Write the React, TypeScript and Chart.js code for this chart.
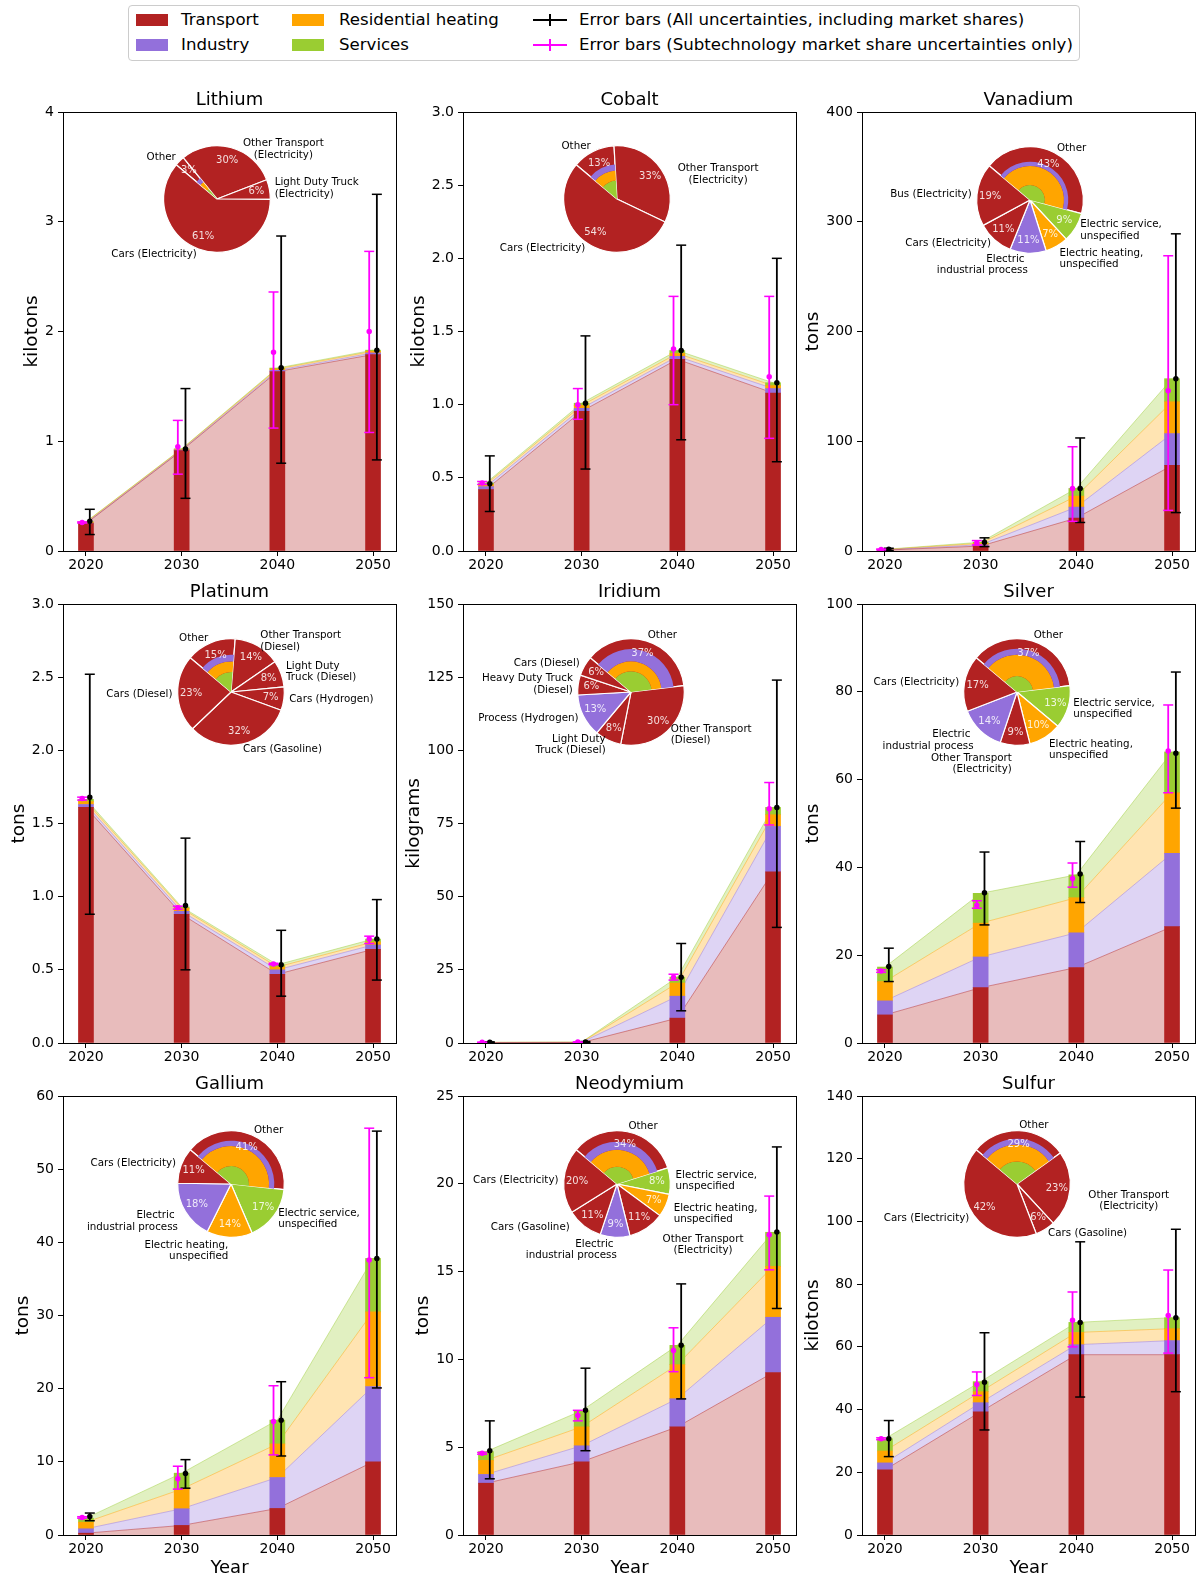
import React, { useEffect, useRef } from "react";
import { Chart, registerables } from "chart.js";

Chart.register(...registerables);
Chart.defaults.font.family = "'DejaVu Sans', sans-serif";

// ---------------- data ----------------
const YEARS = ["2020", "2030", "2040", "2050"];
const X_POS = [0, 1, 2, 3];
const SECTORS = ["Transport", "Industry", "Residential heating", "Services"];

// Lithium (kilotons)
const lithiumTransport = [0.25, 0.915, 1.635, 1.79];
const lithiumIndustry = [0.004, 0.006, 0.012, 0.015];
const lithiumResidential = [0.008, 0.006, 0.012, 0.015];
const lithiumServices = [0.004, 0.004, 0.008, 0.01];
const lithiumErrAll = [[0.27, 0.15, 0.38], [0.93, 0.48, 1.48], [1.67, 0.8, 2.87], [1.83, 0.83, 3.25]];
const lithiumErrShare = [[0.26, 0.255, 0.265], [0.95, 0.7, 1.19], [1.81, 1.12, 2.36], [2.0, 1.08, 2.73]];
const lithiumPieLabels = ["Cars (Electricity)", "Light Duty Truck\n(Electricity)", "Other Transport\n(Electricity)", "Other"];
const lithiumPieShares = [61, 6, 30, 3];
const lithiumPieSectors = ["T", "T", "T", "O"];
const lithiumOtherMix = [0.75, 0.084, 0.106, 0.06];

// Cobalt (kilotons)
const cobaltTransport = [0.42, 0.955, 1.31, 1.08];
const cobaltIndustry = [0.02, 0.02, 0.02, 0.03];
const cobaltResidential = [0.015, 0.02, 0.02, 0.02];
const cobaltServices = [0.01, 0.015, 0.02, 0.02];
const cobaltErrAll = [[0.46, 0.27, 0.65], [1.01, 0.56, 1.47], [1.37, 0.76, 2.09], [1.15, 0.61, 2.0]];
const cobaltErrShare = [[0.465, 0.455, 0.475], [1.0, 0.9, 1.11], [1.38, 1.0, 1.74], [1.19, 0.77, 1.74]];
const cobaltPieLabels = ["Cars (Electricity)", "Other Transport\n(Electricity)", "Other"];
const cobaltPieShares = [54, 33, 13];
const cobaltPieSectors = ["T", "T", "O"];
const cobaltOtherMix = [0.58, 0.135, 0.165, 0.12];

// Vanadium (tons)
const vanadiumTransport = [0.8, 4.5, 30, 78];
const vanadiumIndustry = [0.3, 1.2, 10, 29];
const vanadiumResidential = [0.2, 1.3, 10, 29];
const vanadiumServices = [0.2, 1.0, 7, 21];
const vanadiumErrAll = [[1.5, 0.5, 2.5], [8, 4, 12], [57, 26, 103], [157, 35, 289]];
const vanadiumErrShare = [[1.4, 1.0, 1.8], [7.5, 5.5, 9.5], [57, 27, 95], [146, 37, 269]];
const vanadiumPieLabels = ["Bus (Electricity)", "Cars (Electricity)", "Electric \nindustrial process", "Electric heating,\nunspecified", "Electric service,\nunspecified", "Other"];
const vanadiumPieShares = [19, 11, 11, 7, 9, 43];
const vanadiumPieSectors = ["T", "T", "I", "R", "S", "O"];
const vanadiumOtherMix = [0.484, 0.109, 0.328, 0.079];

// Platinum (tons)
const platinumTransport = [1.61, 0.88, 0.47, 0.64];
const platinumIndustry = [0.02, 0.02, 0.03, 0.03];
const platinumResidential = [0.02, 0.02, 0.02, 0.02];
const platinumServices = [0.015, 0.01, 0.015, 0.02];
const platinumErrAll = [[1.68, 0.88, 2.52], [0.94, 0.5, 1.4], [0.535, 0.32, 0.77], [0.71, 0.43, 0.98]];
const platinumErrShare = [[1.67, 1.66, 1.68], [0.925, 0.915, 0.935], [0.54, 0.535, 0.545], [0.71, 0.68, 0.73]];
const platinumPieLabels = ["Cars (Diesel)", "Cars (Gasoline)", "Cars (Hydrogen)", "Light Duty\nTruck (Diesel)", "Other Transport\n(Diesel)", "Other"];
const platinumPieShares = [23, 32, 7, 8, 14, 15];
const platinumPieSectors = ["T", "T", "T", "T", "T", "O"];
const platinumOtherMix = [0.51, 0.16, 0.19, 0.14];

// Iridium (kilograms)
const iridiumTransport = [0.1, 0.15, 8.5, 58.5];
const iridiumIndustry = [0.05, 0.08, 7.5, 15.5];
const iridiumResidential = [0.05, 0.05, 4.5, 4];
const iridiumServices = [0.03, 0.04, 2, 2.5];
const iridiumErrAll = [[0.23, 0.1, 0.4], [0.32, 0.15, 0.5], [22.5, 11, 34], [80.5, 39.5, 124]];
const iridiumErrShare = [[0.22, 0.2, 0.25], [0.3, 0.28, 0.33], [22.5, 21.5, 23.5], [80, 74.5, 89]];
const iridiumPieLabels = ["Cars (Diesel)", "Heavy Duty Truck\n(Diesel)", "Process (Hydrogen)", "Light Duty\nTruck (Diesel)", "Other Transport\n(Diesel)", "Other"];
const iridiumPieShares = [6, 6, 13, 8, 30, 37];
const iridiumPieSectors = ["T", "T", "I", "T", "T", "O"];
const iridiumOtherMix = [0.354, 0.316, 0.18, 0.15];

// Silver (tons)
const silverTransport = [6.4, 12.6, 17.2, 26.5];
const silverIndustry = [3.2, 7.0, 7.9, 16.7];
const silverResidential = [4.4, 7.7, 8.0, 13.8];
const silverServices = [3.3, 6.8, 5.2, 9.3];
const silverErrAll = [[17.4, 14.0, 21.6], [34.2, 26.9, 43.5], [38.5, 32.0, 45.9], [66.0, 53.5, 84.5]];
const silverErrShare = [[16.4, 16.1, 16.7], [31.4, 30.7, 32.4], [37.5, 35.5, 41.0], [66.5, 57.0, 77.0]];
const silverPieLabels = ["Cars (Electricity)", "Electric \nindustrial process", "Other Transport\n(Electricity)", "Electric heating,\nunspecified", "Electric service,\nunspecified", "Other"];
const silverPieShares = [17, 14, 9, 10, 13, 37];
const silverPieSectors = ["T", "I", "T", "R", "S", "O"];
const silverOtherMix = [0.34, 0.17, 0.4, 0.09];

// Gallium (tons)
const galliumTransport = [0.25, 1.31, 3.63, 10.0];
const galliumIndustry = [0.6, 2.28, 4.23, 10.3];
const galliumResidential = [0.9, 2.68, 4.59, 10.2];
const galliumServices = [0.55, 2.18, 3.25, 7.3];
const galliumErrAll = [[2.54, 1.95, 3.0], [8.4, 6.4, 10.3], [15.7, 10.8, 20.95], [37.8, 20.1, 55.2]];
const galliumErrShare = [[2.4, 2.3, 2.5], [7.7, 6.27, 9.4], [15.5, 10.95, 20.4], [37.6, 21.5, 55.6]];
const galliumPieLabels = ["Cars (Electricity)", "Electric \nindustrial process", "Electric heating,\nunspecified", "Electric service,\nunspecified", "Other"];
const galliumPieShares = [11, 18, 14, 17, 41];
const galliumPieSectors = ["T", "I", "R", "S", "O"];
const galliumOtherMix = [0.34, 0.15, 0.396, 0.114];

// Neodymium (tons)
const neodymiumTransport = [2.95, 4.17, 6.16, 9.25];
const neodymiumIndustry = [0.5, 0.91, 1.6, 3.15];
const neodymiumResidential = [0.8, 1.08, 1.94, 2.9];
const neodymiumServices = [0.5, 0.92, 1.1, 1.94];
const neodymiumErrAll = [[4.8, 3.2, 6.5], [7.1, 4.8, 9.5], [10.8, 7.75, 14.3], [17.25, 12.9, 22.1]];
const neodymiumErrShare = [[4.65, 4.6, 4.7], [6.8, 6.5, 7.1], [10.5, 9.3, 11.8], [17.1, 15.1, 19.3]];
const neodymiumPieLabels = ["Cars (Electricity)", "Cars (Gasoline)", "Electric \nindustrial process", "Other Transport\n(Electricity)", "Electric heating,\nunspecified", "Electric service,\nunspecified", "Other"];
const neodymiumPieShares = [20, 11, 9, 11, 7, 8, 34];
const neodymiumPieSectors = ["T", "T", "I", "T", "R", "S", "O"];
const neodymiumOtherMix = [0.37, 0.22, 0.305, 0.105];

// Sulfur (kilotons)
const sulfurTransport = [20.8, 39.3, 57.5, 57.5];
const sulfurIndustry = [2.2, 2.9, 3.2, 4.5];
const sulfurResidential = [3.8, 3.5, 3.9, 3.8];
const sulfurServices = [3.9, 3.2, 3.2, 3.5];
const sulfurErrAll = [[30.7, 25, 36.5], [48.7, 33.5, 64.5], [67.8, 44, 93.5], [69.3, 45.7, 97.5]];
const sulfurErrShare = [[30.7, 30.4, 31.0], [48, 44.5, 52], [68.5, 60, 77.5], [70, 58, 84.5]];
const sulfurPieLabels = ["Cars (Electricity)", "Cars (Gasoline)", "Other Transport\n(Electricity)", "Other"];
const sulfurPieShares = [42, 6, 23, 29];
const sulfurPieSectors = ["T", "T", "T", "O"];
const sulfurOtherMix = [0.28, 0.18, 0.36, 0.18];

const METALS: any[] = [
  { name: "Lithium", unit: "kilotons", yMax: 4, yStep: 1, dec: 0, sectors: [lithiumTransport, lithiumIndustry, lithiumResidential, lithiumServices], errAll: lithiumErrAll, errShare: lithiumErrShare, pieLabels: lithiumPieLabels, pieShares: lithiumPieShares, pieSectors: lithiumPieSectors, otherMix: lithiumOtherMix },
  { name: "Cobalt", unit: "kilotons", yMax: 3, yStep: 0.5, dec: 1, sectors: [cobaltTransport, cobaltIndustry, cobaltResidential, cobaltServices], errAll: cobaltErrAll, errShare: cobaltErrShare, pieLabels: cobaltPieLabels, pieShares: cobaltPieShares, pieSectors: cobaltPieSectors, otherMix: cobaltOtherMix },
  { name: "Vanadium", unit: "tons", yMax: 400, yStep: 100, dec: 0, sectors: [vanadiumTransport, vanadiumIndustry, vanadiumResidential, vanadiumServices], errAll: vanadiumErrAll, errShare: vanadiumErrShare, pieLabels: vanadiumPieLabels, pieShares: vanadiumPieShares, pieSectors: vanadiumPieSectors, otherMix: vanadiumOtherMix },
  { name: "Platinum", unit: "tons", yMax: 3, yStep: 0.5, dec: 1, sectors: [platinumTransport, platinumIndustry, platinumResidential, platinumServices], errAll: platinumErrAll, errShare: platinumErrShare, pieLabels: platinumPieLabels, pieShares: platinumPieShares, pieSectors: platinumPieSectors, otherMix: platinumOtherMix },
  { name: "Iridium", unit: "kilograms", yMax: 150, yStep: 25, dec: 0, sectors: [iridiumTransport, iridiumIndustry, iridiumResidential, iridiumServices], errAll: iridiumErrAll, errShare: iridiumErrShare, pieLabels: iridiumPieLabels, pieShares: iridiumPieShares, pieSectors: iridiumPieSectors, otherMix: iridiumOtherMix },
  { name: "Silver", unit: "tons", yMax: 100, yStep: 20, dec: 0, sectors: [silverTransport, silverIndustry, silverResidential, silverServices], errAll: silverErrAll, errShare: silverErrShare, pieLabels: silverPieLabels, pieShares: silverPieShares, pieSectors: silverPieSectors, otherMix: silverOtherMix },
  { name: "Gallium", unit: "tons", yMax: 60, yStep: 10, dec: 0, sectors: [galliumTransport, galliumIndustry, galliumResidential, galliumServices], errAll: galliumErrAll, errShare: galliumErrShare, pieLabels: galliumPieLabels, pieShares: galliumPieShares, pieSectors: galliumPieSectors, otherMix: galliumOtherMix },
  { name: "Neodymium", unit: "tons", yMax: 25, yStep: 5, dec: 0, sectors: [neodymiumTransport, neodymiumIndustry, neodymiumResidential, neodymiumServices], errAll: neodymiumErrAll, errShare: neodymiumErrShare, pieLabels: neodymiumPieLabels, pieShares: neodymiumPieShares, pieSectors: neodymiumPieSectors, otherMix: neodymiumOtherMix },
  { name: "Sulfur", unit: "kilotons", yMax: 140, yStep: 20, dec: 0, sectors: [sulfurTransport, sulfurIndustry, sulfurResidential, sulfurServices], errAll: sulfurErrAll, errShare: sulfurErrShare, pieLabels: sulfurPieLabels, pieShares: sulfurPieShares, pieSectors: sulfurPieSectors, otherMix: sulfurOtherMix },
];

// ---------------- layout & style ----------------
const COL_LEFT = [63, 463, 862];
const ROW_TOP = [112, 604, 1096];
const AX_W = 333;
const AX_H = 439;
const PAD_L = 62, PAD_T = 40, PAD_R = 8, PAD_B = 45;
const PIE_CENTERS = [[217, 199], [617, 199], [1030, 200], [231, 692], [631, 692], [1017, 692], [231, 1184], [617, 1184], [1017, 1184]];
const LABEL_NUDGES: any[] = [
  { 2: [11, 7, "center"] },
  { 1: [12, 8, "center"] },
  { 2: [0, 6], 3: [0, 8] },
  {},
  {},
  { 1: [-3, 6], 2: [-3, 13], 3: [1, 8] },
  { 1: [-3, 7], 2: [-1, 8] },
  { 1: [-11, -3], 2: [2, 7], 3: [13, 12, "center"], 4: [3, 6] },
  { 2: [13, 11, "center"] },
];
const PIE_START = 140;
const PIE_R = 53.3;
const PIE_W = 340, PIE_H = 200;
const FONT = "'DejaVu Sans', sans-serif";

const BAR_COLORS = ["#b22222", "#9370db", "#ffa500", "#9acd32"];
const AREA_FILL = ["rgba(178,34,34,0.3)", "rgba(147,112,219,0.3)", "rgba(255,165,0,0.3)", "rgba(154,205,50,0.3)"];
const AREA_EDGE = ["rgba(178,34,34,0.45)", "rgba(147,112,219,0.45)", "rgba(255,165,0,0.45)", "rgba(154,205,50,0.45)"];
const SECTOR_COLOR: any = { T: "#b22222", I: "#9370db", R: "#ffa500", S: "#9acd32", O: "#b22222" };
const MAGENTA = "#ff00ff";

function errPoints(err: number[][], dx: number) {
  const pts: any[] = [];
  err.forEach(([mid, lo, hi], j) => {
    const x = X_POS[j] + dx;
    pts.push({ x, y: lo }, { x, y: mid }, { x, y: hi }, { x, y: null });
  });
  return pts;
}

function decorPlugin(m: any, showX: boolean) {
  return {
    id: "decor",
    afterDraw(chart: any) {
      const { ctx, chartArea: a } = chart;
      const al = (p: number) => Math.round(p - 0.5) + 0.5;
      ctx.save();
      ctx.strokeStyle = "#000";
      ctx.lineWidth = 1;
      ctx.strokeRect(al(a.left), al(a.top), al(a.right) - al(a.left), al(a.bottom) - al(a.top));
      ctx.fillStyle = "#000";
      ctx.font = `18px ${FONT}`;
      ctx.textAlign = "center";
      ctx.textBaseline = "alphabetic";
      ctx.fillText(m.name, (a.left + a.right) / 2, a.top - 7.5);
      ctx.font = `14px ${FONT}`;
      const maxW = Math.max(...chart.scales.y.ticks.map((t: any) => ctx.measureText(String(t.label)).width));
      ctx.save();
      ctx.translate(a.left - maxW - 22, (a.top + a.bottom) / 2);
      ctx.rotate(-Math.PI / 2);
      ctx.font = `18.5px ${FONT}`;
      ctx.textBaseline = "middle";
      ctx.fillText(m.unit, 0, 0);
      ctx.restore();
      if (showX) {
        ctx.font = `18px ${FONT}`;
        ctx.textBaseline = "middle";
        ctx.fillText("Year", (a.left + a.right) / 2, a.bottom + 33);
      }
      ctx.restore();
    },
  };
}

function mainConfig(m: any, idx: number): any {
  const showX = Math.floor(idx / 3) === 2;
  const areaDs = m.sectors.map((vals: number[], k: number) => ({
    type: "line",
    label: SECTORS[k] + " area",
    data: X_POS.map((x, j) => ({ x, y: vals[j] })),
    stack: "area",
    order: 3,
    fill: k === 0 ? "origin" : "-1",
    backgroundColor: AREA_FILL[k],
    borderColor: AREA_EDGE[k],
    borderWidth: 1,
    pointRadius: 0,
    tension: 0,
  }));
  const barDs = m.sectors.map((vals: number[], k: number) => ({
    type: "bar",
    label: SECTORS[k],
    data: X_POS.map((x, j) => ({ x, y: vals[j] })),
    stack: "bars",
    order: 2,
    backgroundColor: BAR_COLORS[k],
    borderWidth: 0,
    barThickness: 15,
  }));
  const errSpecs: any[] = [
    [m.errShare, MAGENTA, -0.04, "Error bars (Subtechnology market share uncertainties only)"],
    [m.errAll, "#000", 0.04, "Error bars (All uncertainties, including market shares)"],
  ];
  const errDs = errSpecs.map(([err, color, dx, label], k) => ({
    type: "line",
    label,
    data: errPoints(err, dx),
    stack: "err" + k,
    order: 0,
    fill: false,
    spanGaps: false,
    borderColor: color,
    borderWidth: 1.8,
    tension: 0,
    pointStyle: err.flatMap(() => ["line", "circle", "line", "line"]),
    pointRadius: err.flatMap(() => [5, 2, 5, 0]),
    pointBackgroundColor: color,
    pointBorderColor: color,
    pointBorderWidth: 1.5,
  }));
  return {
    type: "bar",
    data: { datasets: [...areaDs, ...barDs, ...errDs] },
    options: {
      responsive: false,
      maintainAspectRatio: false,
      animation: false,
      devicePixelRatio: 1,
      events: [],
      layout: { padding: { left: 0, top: PAD_T, right: PAD_R, bottom: 0 } },
      plugins: { legend: { display: false }, tooltip: { enabled: false }, title: { display: false } },
      scales: {
        x: {
          type: "linear",
          min: -0.24,
          max: 3.24,
          offset: false,
          afterBuildTicks: (axis: any) => {
            axis.ticks = X_POS.map((v) => ({ value: v }));
          },
          afterFit: (s: any) => {
            s.height = PAD_B;
          },
          ticks: {
            autoSkip: false,
            maxRotation: 0,
            padding: 1,
            color: "#000",
            font: { size: 14, family: FONT },
            callback: (v: any) => YEARS[Math.round(v)],
          },
          grid: { drawOnChartArea: false, drawTicks: true, tickLength: 5, tickColor: "#000", tickWidth: 1, offset: false },
          border: { display: false },
        },
        y: {
          type: "linear",
          stacked: true,
          min: 0,
          max: m.yMax,
          afterFit: (s: any) => {
            s.width = PAD_L;
          },
          ticks: {
            stepSize: m.yStep,
            padding: 4,
            color: "#000",
            font: { size: 14, family: FONT },
            callback: (v: any) => Number(v).toFixed(m.dec),
          },
          grid: { drawOnChartArea: false, drawTicks: true, tickLength: 5, tickColor: "#000", tickWidth: 1 },
          border: { display: false },
        },
      },
    },
    plugins: [decorPlugin(m, showX)],
  };
}

function pieConfig(m: any): any {
  const order = m.pieShares.map((_: any, i: number) => i).reverse();
  return {
    type: "pie",
    data: {
      labels: order.map((i: number) => m.pieLabels[i]),
      datasets: [
        {
          data: order.map((i: number) => m.pieShares[i]),
          backgroundColor: order.map((i: number) => SECTOR_COLOR[m.pieSectors[i]]),
          borderColor: "#ffffff",
          borderWidth: 1.2,
        },
      ],
    },
    options: {
      responsive: false,
      maintainAspectRatio: false,
      animation: false,
      devicePixelRatio: 1,
      events: [],
      rotation: 90 - PIE_START,
      radius: PIE_R,
      layout: { padding: 0 },
      plugins: { legend: { display: false }, tooltip: { enabled: false } },
    },
  };
}

function pieTextPlugin(m: any, nudges: any) {
  return {
    id: "pieText",
    afterDraw(chart: any) {
      const { ctx, chartArea: a } = chart;
      const cx = (a.left + a.right) / 2;
      const cy = (a.top + a.bottom) / 2;
      const total = m.pieShares.reduce((s: number, v: number) => s + v, 0);
      let cum = 0;
      ctx.save();
      m.pieShares.forEach((s: number, i: number) => {
        const midDeg = PIE_START + ((cum + s / 2) / total) * 360;
        cum += s;
        const th = (midDeg * Math.PI) / 180;
        const c = Math.cos(th);
        const sn = Math.sin(th);
        ctx.font = `10px ${FONT}`;
        ctx.fillStyle = "rgba(255,255,255,0.85)";
        ctx.textAlign = "center";
        ctx.textBaseline = "middle";
        ctx.fillText(`${s}%`, cx + 0.75 * PIE_R * c, cy - 0.75 * PIE_R * sn);
        const nd = nudges[i] || [0, 0];
        const ha = c > 0 ? "left" : "right";
        const ma = nd[2] || ha;
        const ax = cx + 1.1 * PIE_R * c + nd[0];
        const ay = cy - 1.1 * PIE_R * sn + nd[1];
        ctx.font = `10.3px ${FONT}`;
        ctx.fillStyle = "#000";
        ctx.textAlign = "left";
        const lines = String(m.pieLabels[i]).split("\n");
        const ws = lines.map((l) => ctx.measureText(l).width);
        const bw = Math.max(...ws);
        const left = ha === "left" ? ax : ax - bw;
        const lh = 11.5;
        const top = ay - (lh * lines.length) / 2;
        lines.forEach((l, k) => {
          const x = ma === "left" ? left : ma === "right" ? left + bw - ws[k] : left + (bw - ws[k]) / 2;
          ctx.fillText(l, x, top + lh * (k + 0.5));
        });
      });
      ctx.restore();
    },
  };
}

function overlayConfig(m: any, nudges: any): any {
  const total = m.pieShares.reduce((s: number, v: number) => s + v, 0);
  const oi = m.pieSectors.indexOf("O");
  const other = m.pieShares[oi];
  const mix = m.otherMix;
  const fP = 1 - mix[0];
  const fO = fP - mix[1];
  const fG = mix[3];
  const rP = PIE_R * Math.sqrt(fP);
  const rO = PIE_R * Math.sqrt(Math.max(fO, 0));
  const rG = PIE_R * Math.sqrt(fG);
  const rings: any[] = [
    [BAR_COLORS[1], rP - rO],
    [BAR_COLORS[2], rO - rG],
    [BAR_COLORS[3], rG],
  ];
  return {
    type: "pie",
    data: {
      labels: ["Other", "rest"],
      datasets: rings.map(([col, w]) => ({
        data: [other, total - other],
        backgroundColor: [col, "rgba(0,0,0,0)"],
        borderWidth: 0,
        weight: w,
      })),
    },
    options: {
      responsive: false,
      maintainAspectRatio: false,
      animation: false,
      devicePixelRatio: 1,
      events: [],
      rotation: 90 - PIE_START,
      radius: rP,
      layout: { padding: 0 },
      plugins: { legend: { display: false }, tooltip: { enabled: false } },
    },
    plugins: [pieTextPlugin(m, nudges)],
  };
}

function Panel({ m, idx }: { m: any; idx: number }) {
  const mainRef = useRef<HTMLCanvasElement>(null);
  const pieRef = useRef<HTMLCanvasElement>(null);
  const ovRef = useRef<HTMLCanvasElement>(null);
  useEffect(() => {
    const charts = [
      new Chart(mainRef.current as any, mainConfig(m, idx)),
      new Chart(pieRef.current as any, pieConfig(m)),
      new Chart(ovRef.current as any, overlayConfig(m, LABEL_NUDGES[idx])),
    ];
    return () => charts.forEach((c) => c.destroy());
  }, []);
  const row = Math.floor(idx / 3);
  const col = idx % 3;
  const left = COL_LEFT[col] - PAD_L;
  const top = ROW_TOP[row] - PAD_T;
  const w = PAD_L + AX_W + PAD_R;
  const h = PAD_T + AX_H + PAD_B;
  const [pcx, pcy] = PIE_CENTERS[idx];
  const pl = pcx - PIE_W / 2;
  const pt = pcy - PIE_H / 2;
  return (
    <>
      <canvas ref={mainRef} width={w} height={h} style={{ position: "absolute", left, top, width: w, height: h }} />
      <canvas ref={pieRef} width={PIE_W} height={PIE_H} style={{ position: "absolute", left: pl, top: pt, width: PIE_W, height: PIE_H }} />
      <canvas ref={ovRef} width={PIE_W} height={PIE_H} style={{ position: "absolute", left: pl, top: pt, width: PIE_W, height: PIE_H }} />
    </>
  );
}

function Legend() {
  const txt: any = { position: "absolute", fontFamily: FONT, fontSize: 16.6, color: "#000", whiteSpace: "nowrap", height: 20, lineHeight: "20px" };
  const patch = (l: number, cy: number, color: string) => (
    <div style={{ position: "absolute", left: l, top: cy - 6, width: 32, height: 12, background: color }} />
  );
  const text = (l: number, cy: number, s: string) => <div style={{ ...txt, left: l, top: cy - 10 }}>{s}</div>;
  const mark = (l: number, cy: number, color: string) => (
    <>
      <div style={{ position: "absolute", left: l, top: cy - 0.75, width: 34, height: 1.5, background: color }} />
      <div style={{ position: "absolute", left: l + 16.25, top: cy - 6, width: 1.5, height: 12, background: color }} />
    </>
  );
  const r1 = 14, r2 = 39;
  return (
    <div style={{ position: "absolute", left: 128, top: 5, width: 952, height: 56, border: "1px solid #cccccc", borderRadius: 4, boxSizing: "border-box", background: "#fff" }}>
      {patch(7, r1, BAR_COLORS[0])}
      {text(52, r1, SECTORS[0])}
      {patch(7, r2, BAR_COLORS[1])}
      {text(52, r2, SECTORS[1])}
      {patch(163, r1, BAR_COLORS[2])}
      {text(210, r1, SECTORS[2])}
      {patch(163, r2, BAR_COLORS[3])}
      {text(210, r2, SECTORS[3])}
      {mark(404, r1, "#000")}
      {text(450, r1, "Error bars (All uncertainties, including market shares)")}
      {mark(404, r2, MAGENTA)}
      {text(450, r2, "Error bars (Subtechnology market share uncertainties only)")}
    </div>
  );
}

export default function App() {
  return (
    <div style={{ position: "absolute", left: 0, top: 0, width: 1200, height: 1576, background: "#fff", overflow: "hidden" }}>
      {METALS.map((m, i) => (
        <Panel key={m.name} m={m} idx={i} />
      ))}
      <Legend />
    </div>
  );
}
